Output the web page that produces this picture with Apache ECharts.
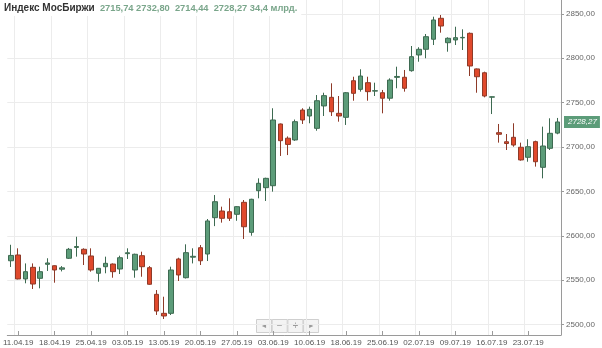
<!DOCTYPE html>
<html><head><meta charset="utf-8">
<script src="https://cdn.jsdelivr.net/npm/echarts@6/dist/echarts.min.js"></script>
<style>html,body{margin:0;padding:0;background:#fff}#c{width:602px;height:348px}</style>
</head><body><div id="c"></div>
<script>
var dates = ["10.04.19","11.04.19","12.04.19","15.04.19","16.04.19","17.04.19","18.04.19","19.04.19","22.04.19","23.04.19","24.04.19","25.04.19","26.04.19","29.04.19","30.04.19","02.05.19","03.05.19","06.05.19","07.05.19","08.05.19","10.05.19","13.05.19","14.05.19","15.05.19","16.05.19","17.05.19","20.05.19","21.05.19","22.05.19","23.05.19","24.05.19","27.05.19","28.05.19","29.05.19","30.05.19","31.05.19","03.06.19","04.06.19","05.06.19","06.06.19","07.06.19","10.06.19","11.06.19","13.06.19","14.06.19","17.06.19","18.06.19","19.06.19","20.06.19","21.06.19","24.06.19","25.06.19","26.06.19","27.06.19","28.06.19","01.07.19","02.07.19","03.07.19","04.07.19","05.07.19","08.07.19","09.07.19","10.07.19","11.07.19","12.07.19","15.07.19","16.07.19","17.07.19","18.07.19","19.07.19","22.07.19","23.07.19","24.07.19","25.07.19","26.07.19","29.07.19"];
var openV  = [2572,2578.5,2551.5,2564.6,2552.2,2568,2566.4,2562.5,2574.8,2587,2584.9,2577.4,2557.9,2565.3,2568.3,2562.7,2580,2561.6,2577.7,2564.2,2534.2,2512.8,2512.8,2574,2552.9,2576,2586.7,2579.6,2620.5,2628,2627.2,2624.3,2637.8,2604,2650.9,2654.3,2656.5,2726,2710,2708,2741.7,2735,2721.1,2746.3,2756,2738,2733.5,2774.7,2765,2772.5,2763,2761.2,2755,2778.5,2778.6,2786,2803.7,2810.1,2821.4,2845,2817.5,2820.6,2823,2828.1,2788,2783.7,2756.2,2716.2,2706,2711,2699.8,2688.5,2706.1,2677.2,2698.6,2715.74];
var closeV = [2578,2551.5,2559.7,2545.8,2559.7,2569.5,2561.6,2564,2584.9,2588,2579.6,2561.6,2563.5,2569.1,2559.7,2575.4,2581,2579.3,2565.3,2545.5,2515.4,2509.8,2561.6,2556,2581.1,2577,2572,2616.8,2638.5,2619.8,2619.8,2632.9,2610.3,2641.2,2659.2,2664.8,2730.5,2707.2,2703,2728.6,2730.5,2742.5,2752.2,2757.9,2739.8,2735,2761.2,2760.5,2780,2762.4,2763.5,2755,2775.5,2779.5,2766.2,2801.8,2810.1,2824.3,2843.1,2836.3,2822.5,2823.2,2823.5,2791.3,2779.2,2757.5,2756.6,2714.4,2704,2702.3,2685.5,2700.4,2683.5,2701.2,2715.5,2728.27];
var lowV   = [2565,2551,2546.6,2540.2,2541,2560.5,2547.3,2560,2574,2576.6,2567.2,2559.7,2548.4,2557.9,2552.9,2557.1,2574,2552.9,2554,2545,2511,2506.4,2510.9,2549.2,2552,2569,2567.2,2571.7,2611,2614.9,2616.8,2617,2596.5,2600.2,2642.3,2639.3,2649.8,2690,2691,2707,2726,2726.8,2718.4,2735,2735,2728.6,2724.9,2752.2,2762.4,2752.2,2757.5,2738,2752.2,2766.2,2762.4,2784.9,2796.1,2800,2814.9,2828.8,2807.4,2814.9,2809.3,2780,2761.2,2756,2737.2,2705,2696.7,2700.4,2684.7,2683.5,2678,2664.8,2696.7,2714.44];
var highV  = [2590,2586,2569,2569,2565.3,2574.8,2566.8,2566,2586.4,2599,2586,2586,2563.8,2576.6,2569,2577.7,2586,2580,2582.2,2566,2539,2531.5,2565.3,2575.4,2590.5,2586,2589.7,2619,2646,2632.9,2642.3,2633.5,2640.4,2641.8,2664.8,2665.5,2743.7,2726.5,2712,2731,2743.7,2745.5,2758.6,2761.2,2771.8,2757.5,2762,2779.2,2787.6,2779.2,2772.5,2764.3,2777.4,2790.5,2786.8,2813.8,2812.4,2827.3,2846.8,2848.7,2823.6,2835.5,2832.6,2829,2788.5,2784.9,2757,2726,2714.7,2726.8,2705,2708.8,2707.2,2723,2732.4,2732.80];
var yTicks = [2500,2550,2600,2650,2700,2750,2800,2850];
var header = {name:"Индекс МосБиржи", o:"2715,74", h:"2732,80", l:"2714,44", c:"2728,27", vol:"34,4 млрд."};

var candles = dates.map(function(d,i){ return [openV[i], closeV[i], lowV[i], highV[i]]; });
var lastClose = closeV[closeV.length-1];
var fmt = function(v){ return Number(v).toFixed(2).replace('.', ','); };
var showIdx = function(i){ return i % 5 === 1; };

var chart = echarts.init(document.getElementById('c'), null, {renderer:'canvas'});
chart.setOption({
  animation:false,
  backgroundColor:'#ffffff',
  textStyle:{fontFamily:'Liberation Sans, Arial, sans-serif'},
  title:{
    left:0, top:0, padding:[3,4,3,4], backgroundColor:'#ffffff',
    text:'{a|'+header.name+'}{s|  }{b|'+header.o+'}{s| }{b|'+header.h+'}{s|  }{b|'+header.l+'}{s|  }{b|'+header.c+'}{s| }{b|'+header.vol+'}',
    textStyle:{rich:{
      a:{fontFamily:'Liberation Sans, Arial',fontWeight:'bold',fontSize:10,color:'#333333'},
      b:{fontFamily:'Liberation Sans, Arial',fontSize:9.3,color:'#7aa68b'},
      s:{fontFamily:'Liberation Sans, Arial',fontSize:9.3}
    }}
  },
  grid:{left:2, right:41, top:0, bottom:13},
  xAxis:{
    type:'category', data:dates, boundaryGap:true,
    axisLine:{show:true, lineStyle:{color:'#9a9a9a', width:1}},
    axisTick:{show:true, inside:true, length:4, alignWithLabel:true, interval:function(i){return showIdx(i);}, lineStyle:{color:'#9a9a9a'}},
    axisLabel:{interval:function(i){return showIdx(i);}, color:'#555555', fontSize:8, margin:4, hideOverlap:false},
    splitLine:{show:true, interval:function(i){return showIdx(i);}, lineStyle:{color:'#ececec', width:1}}
  },
  yAxis:{
    type:'value', position:'right', min:2488.4, max:2865.6, scale:true,
    axisLine:{show:true, lineStyle:{color:'#9a9a9a', width:1}},
    axisTick:{show:true, length:3, customValues:yTicks, lineStyle:{color:'#9a9a9a'}},
    axisLabel:{customValues:yTicks, formatter:fmt, color:'#666666', fontSize:8, margin:5},
    splitLine:{show:true, lineStyle:{color:'#ececec', width:1}},
    axisPointer:{
      show:true, type:'line', value:lastClose, status:'show', triggerTooltip:false,
      lineStyle:{opacity:0},
      label:{show:true, formatter:function(p){return fmt(p.value);}, backgroundColor:'#5c9c79', color:'#ffffff',
        fontSize:8, fontStyle:'italic', padding:[2,3,2,4], margin:3, borderRadius:0}
    }
  },
  series:[{
    type:'candlestick', data:candles, barWidth:5,
    itemStyle:{color:'#5c9c79', color0:'#e0492c', borderColor:'#3d6a51', borderColor0:'#8e3a28', borderWidth:1}
  }],
  graphic:[{
    type:'group', left:256, top:319,
    children:[0,1,2,3].map(function(k){
      var glyph = ['◄','−','+','►'][k];
      return {type:'group', x:k*15.7, y:0, children:[
        {type:'rect', shape:{x:0,y:0,width:15,height:13}, style:{fill:'#f3f3f3', stroke:'#cfcfcf', lineWidth:1}},
        {type:'text', x:7.5, y:6.5, style:{text:glyph, fill:'#9a9a9a', fontSize:k===0||k===3?7:10, align:'center', verticalAlign:'middle'}}
      ]};
    })
  }]
});
</script></body></html>
